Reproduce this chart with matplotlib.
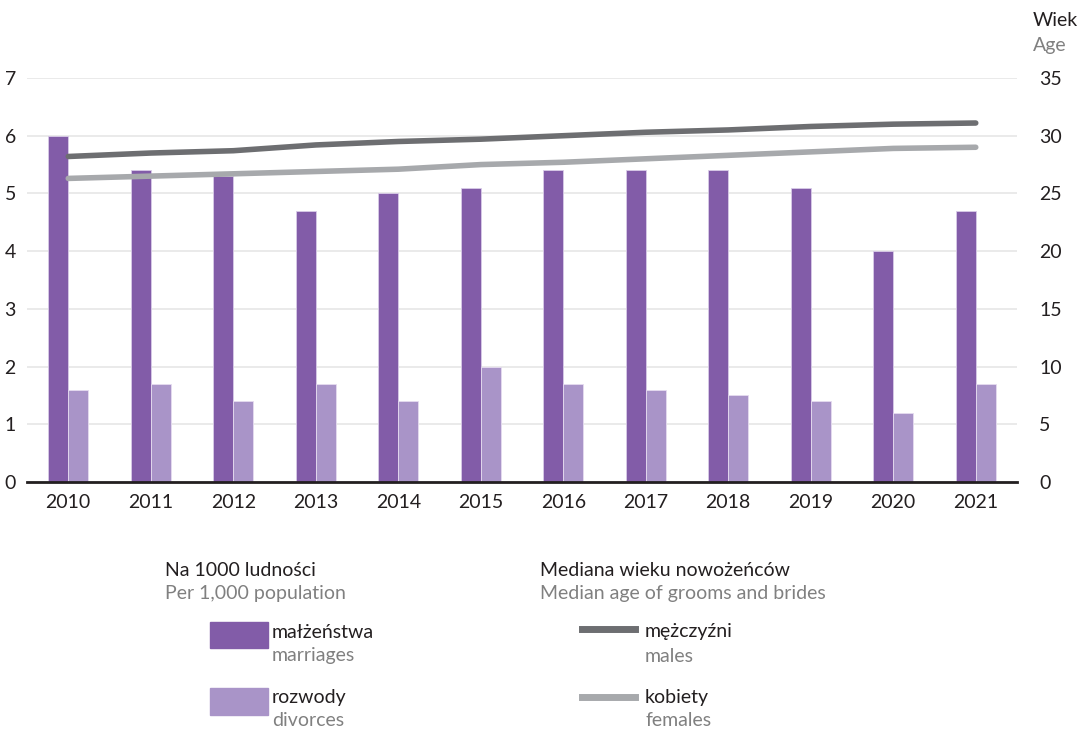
import numpy as np
import matplotlib.pyplot as plt
from matplotlib.patches import Rectangle
from matplotlib.lines import Line2D

plt.rcParams['font.family'] = ['Lato', 'DejaVu Sans']

# dane
lata = ["2010", "2011", "2012", "2013", "2014", "2015", "2016", "2017", "2018", "2019", "2020", "2021"]
malzenstwa = [6.0, 5.4, 5.3, 4.7, 5.0, 5.1, 5.4, 5.4, 5.4, 5.1, 4.0, 4.7]
rozwody = [1.6, 1.7, 1.4, 1.7, 1.4, 2.0, 1.7, 1.6, 1.5, 1.4, 1.2, 1.7]
wiek_mezczyzni = [28.2, 28.5, 28.7, 29.2, 29.5, 29.7, 30.0, 30.3, 30.5, 30.8, 31.0, 31.1]
wiek_kobiety = [26.3, 26.5, 26.7, 26.9, 27.1, 27.5, 27.7, 28.0, 28.3, 28.6, 28.9, 29.0]

kol_malz = "#825ca8"
kol_rozw = "#a994c8"
kol_mez = "#6d6e71"
kol_kob = "#a7a9ac"
szary_txt = "#808080"
fs = 14

W, H = 1078, 729
fig = plt.figure(figsize=(W / 100, H / 100), dpi=100)
ax = fig.add_axes([27 / W, 1 - 482 / H, (1017 - 27) / W, (482 - 78) / H])
ax2 = ax.twinx()

x = np.arange(len(lata))
szer = 0.24
ax.bar(x - szer / 2, malzenstwa, szer, color=kol_malz, edgecolor="#d9cce8", linewidth=0.6, zorder=2)
ax.bar(x + szer / 2, rozwody, szer, color=kol_rozw, edgecolor="#e6dcf0", linewidth=0.6, zorder=2)

ax.set_xlim(-0.5, 11.5)
ax.set_ylim(0, 7)
ax.set_yticks(range(0, 8))
ax.set_xticks(x)
ax.set_xticklabels(lata)
ax.grid(axis="y", color="#e6e6e6", linewidth=1.2, zorder=0)
ax.set_axisbelow(True)
for s in ["top", "right", "left"]:
    ax.spines[s].set_visible(False)
ax.spines["bottom"].set_color("#231f20")
ax.spines["bottom"].set_linewidth(2)
ax.tick_params(axis="both", length=0, labelsize=fs, colors="#231f20")
ax.tick_params(axis="x", pad=9)
ax.tick_params(axis="y", pad=8)

ax2.plot(x, wiek_mezczyzni, color=kol_mez, linewidth=4, solid_capstyle="round", zorder=3)
ax2.plot(x, wiek_kobiety, color=kol_kob, linewidth=4, solid_capstyle="round", zorder=3)
ax2.set_ylim(0, 35)
ax2.set_yticks(range(0, 36, 5))
for s in ["top", "right", "left", "bottom"]:
    ax2.spines[s].set_visible(False)
ax2.tick_params(axis="y", length=0, labelsize=fs, colors="#231f20", pad=16)

# opis osi prawej
fig.text(1033 / W, 1 - 20 / H, "Wiek", fontsize=fs, color="#231f20", va="center")
fig.text(1033 / W, 1 - 45 / H, "Age", fontsize=fs, color=szary_txt, va="center")

# legenda
fig.text(165 / W, 1 - 571 / H, "Na 1000 ludności", fontsize=fs, color="#231f20", va="center")
fig.text(165 / W, 1 - 594 / H, "Per 1,000 population", fontsize=fs, color=szary_txt, va="center")
fig.text(540 / W, 1 - 571 / H, "Mediana wieku nowożeńców", fontsize=fs, color="#231f20", va="center")
fig.text(540 / W, 1 - 594 / H, "Median age of grooms and brides", fontsize=fs, color=szary_txt, va="center")

fig.add_artist(Rectangle((210 / W, 1 - 648 / H), 58 / W, 26 / H, color=kol_malz, transform=fig.transFigure))
fig.add_artist(Rectangle((210 / W, 1 - 715 / H), 58 / W, 27 / H, color=kol_rozw, transform=fig.transFigure))
fig.text(272 / W, 1 - 632 / H, "małżeństwa", fontsize=fs, color="#231f20", va="center")
fig.text(272 / W, 1 - 656 / H, "marriages", fontsize=fs, color=szary_txt, va="center")
fig.text(272 / W, 1 - 697 / H, "rozwody", fontsize=fs, color="#231f20", va="center")
fig.text(272 / W, 1 - 720 / H, "divorces", fontsize=fs, color=szary_txt, va="center")

fig.add_artist(Line2D([582 / W, 635 / W], [1 - 629 / H, 1 - 629 / H], color=kol_mez, linewidth=5, transform=fig.transFigure))
fig.add_artist(Line2D([582 / W, 635 / W], [1 - 697 / H, 1 - 697 / H], color=kol_kob, linewidth=5, transform=fig.transFigure))
fig.text(645 / W, 1 - 632 / H, "mężczyźni", fontsize=fs, color="#231f20", va="center")
fig.text(645 / W, 1 - 656 / H, "males", fontsize=fs, color=szary_txt, va="center")
fig.text(645 / W, 1 - 697 / H, "kobiety", fontsize=fs, color="#231f20", va="center")
fig.text(645 / W, 1 - 720 / H, "females", fontsize=fs, color=szary_txt, va="center")

fig.savefig("out.png", dpi=100)
